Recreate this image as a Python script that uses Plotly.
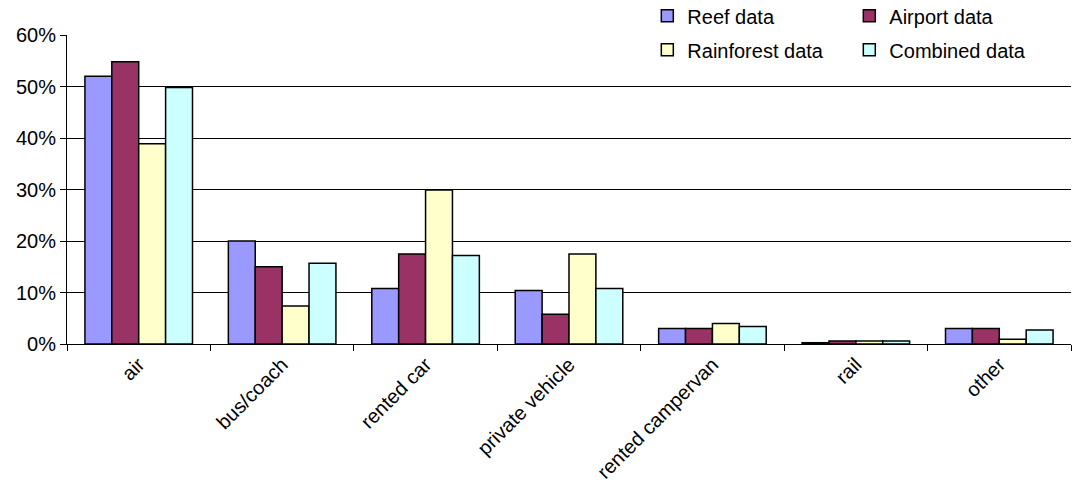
import plotly.graph_objects as go

categories = ["air", "bus/coach", "rented car", "private vehicle", "rented campervan", "rail", "other"]
reef = [0.520, 0.200, 0.108, 0.104, 0.030, 0.0025, 0.030]
airport = [0.548, 0.150, 0.175, 0.058, 0.030, 0.006, 0.030]
rainforest = [0.389, 0.074, 0.299, 0.175, 0.040, 0.006, 0.009]
combined = [0.498, 0.157, 0.172, 0.108, 0.034, 0.006, 0.027]
y_ticks = [0, 0.1, 0.2, 0.3, 0.4, 0.5, 0.6]
y_labels = ["0%", "10%", "20%", "30%", "40%", "50%", "60%"]

series = [
    ("Reef data", reef, "#9999FF", "legend"),
    ("Airport data", airport, "#993366", "legend"),
    ("Rainforest data", rainforest, "#FFFFCC", "legend2"),
    ("Combined data", combined, "#CCFFFF", "legend2"),
]

FONT = "Liberation Sans, Arial, sans-serif"
FS = 20

fig = go.Figure()
for name, vals, color, lg in series:
    fig.add_trace(go.Bar(
        x=categories, y=vals, name=name, legend=lg,
        marker=dict(color=color, line=dict(color="#000000", width=1.5)),
    ))

legend_common = dict(
    orientation="h", xanchor="left", yanchor="middle",
    bgcolor="rgba(255,255,255,0)", font=dict(family=FONT, size=FS, color="#000000"),
    entrywidth=157, entrywidthmode="pixels", itemwidth=30,
    borderwidth=0,
)

fig.update_layout(
    width=1088, height=495,
    margin=dict(l=67, r=17, t=35, b=151, autoexpand=False),
    paper_bgcolor="#FFFFFF", plot_bgcolor="#FFFFFF",
    barmode="group", bargap=0.25, bargroupgap=0,
    font=dict(family=FONT, size=FS, color="#000000"),
    legend=dict(x=0.578, y=1.062, **legend_common),
    legend2=dict(x=0.578, y=0.952, **legend_common),
    showlegend=True,
    shapes=[dict(type="rect", xref="paper", yref="paper",
                 x0=0.571, x1=0.971, y0=0.98, y1=1.02,
                 fillcolor="#FFFFFF", line=dict(width=0), layer="above")],
)

fig.update_xaxes(
    tickangle=-45, ticks="outside", ticklen=6, tickcolor="#000000",
    tickson="boundaries", showline=True, linecolor="#000000", linewidth=1,
    showgrid=False, tickfont=dict(family=FONT, size=FS),
)
fig.update_yaxes(
    range=[0, 0.6], tickvals=y_ticks, ticktext=y_labels,
    ticks="outside", ticklen=6, tickcolor="#000000",
    showline=True, linecolor="#000000", linewidth=1,
    showgrid=True, gridcolor="#000000", gridwidth=1,
    zeroline=False, tickfont=dict(family=FONT, size=FS),
)

fig.write_html("out.html", config={"displayModeBar": False},
               post_script="document.body.style.margin='0';")
